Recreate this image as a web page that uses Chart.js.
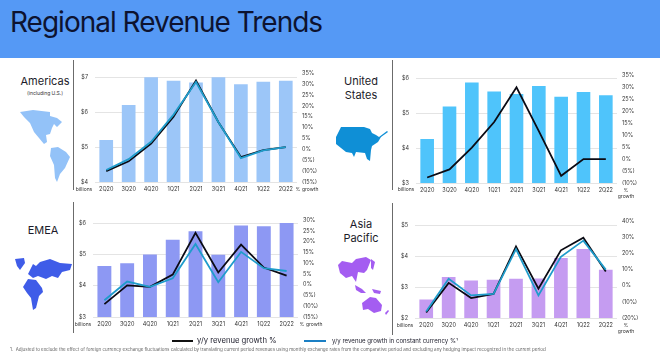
<!DOCTYPE html>
<html>
<head>
<meta charset="utf-8">
<script src="https://cdn.jsdelivr.net/npm/chart.js@4"></script>
<style>
  html, body { margin: 0; padding: 0; background: #fff; }
  body { width: 660px; height: 352px; position: relative; overflow: hidden; font-family: Inter, "Noto Sans", sans-serif; color: #1c1c2a; }
  #band { position: absolute; left: 0; top: 0; width: 660px; height: 58px; background: #5599f5; }
  #title { position: absolute; left: 10px; top: 2px; font-size: 28px; line-height: 40px; letter-spacing: -1px; color: #0d1330; white-space: nowrap; }
  canvas { position: absolute; }
  .sep { position: absolute; width: 1px; background: #6b6b6b; }
  .name { position: absolute; text-align: center; font-size: 11px; line-height: 13.5px; transform: translateX(-50%); white-space: nowrap; }
  .small { position: absolute; font-size: 5px; line-height: 6px; color: #333; white-space: nowrap; text-align: center; transform: translateX(-50%); }
  #maps { position: absolute; left: 0; top: 0; }
  .leg { position: absolute; top: 336px; line-height: 9px; white-space: nowrap; }
  .swatch { position: absolute; height: 1.5px; top: 340px; }
  #note { position: absolute; left: 10px; top: 346.5px; font-size: 4.5px; line-height: 5px; color: #666; white-space: nowrap; }
</style>
</head>
<body>
<div id="band"></div>
<div id="title">Regional Revenue Trends</div>

<div class="sep" style="left:73px;top:60px;height:130px"></div>
<div class="sep" style="left:392px;top:60px;height:130px"></div>
<div class="sep" style="left:73px;top:202px;height:131px"></div>
<div class="sep" style="left:392px;top:203px;height:132px"></div>

<div class="name" style="left:45px;top:75px">Americas</div>
<div class="small" style="left:45px;top:90px">(including U.S.)</div>
<div class="name" style="left:361px;top:75px">United<br>States</div>
<div class="name" style="left:43px;top:224px">EMEA</div>
<div class="name" style="left:361px;top:218px">Asia<br>Pacific</div>

<svg id="maps" width="660" height="352">
  <path fill="#93c2f8" d="M20 112L33 110L50 112L50 116L57 118L62 122L57 127L54 124L52 128L50 134L46 135L47 142L44 144L39 138L34 132L30 123L24 117Z"/>
  <path fill="#93c2f8" d="M51 148L58 147L66 152L70 157L65 168L60 174L57 182L55 178L54 165L50 156Z"/>
  <path fill="#0f8fd6" d="M341 127L364 127L370 129L372 133L376 135L379 137L387 131L388 132L381 137L378 142L372 146L371 150L370 161L367 159L365 153L356 152L354 157L352 153L346 152L341 148L336 144L336 137Z"/>
  <path fill="#3f5ce8" d="M15 259L24 258L25 263L20 270L17 266Z"/>
  <path fill="#3f5ce8" d="M28 274L33 264L36 266L40 262L50 259L60 263L72 264L70 270L62 272L58 278L52 276L46 279L38 276L33 278Z"/>
  <path fill="#3f5ce8" d="M23 287L28 279L36 280L42 288L43 292L39 296L36 308L33 310L31 298L27 293Z"/>
  <path fill="#a45df1" d="M338 265L342 261L352 263L356 259L366 257L371 260L367 270L364 273L358 272L356 282L352 276L346 278L340 273Z"/>
  <path fill="#a45df1" d="M371 259L375 262L373 270L371 268Z"/>
  <path fill="#a45df1" d="M355 285L362 289L366 293L361 293L356 290Z"/>
  <path fill="#a45df1" d="M372 289L381 291L380 294L374 293Z"/>
  <path fill="#a45df1" d="M362 303L370 297L376 298L382 305L381 311L374 313L368 309L363 310Z"/>
  <path fill="#a45df1" d="M385 313L388 310L389 311L386 315Z"/>
</svg>

<canvas id="chartAmericas"></canvas>
<canvas id="chartUS"></canvas>
<canvas id="chartEMEA"></canvas>
<canvas id="chartAPAC"></canvas>

<div class="small" style="left:84px;top:186px">billions</div>
<div class="small" style="left:307px;top:186px">% growth</div>
<div class="small" style="left:406px;top:186px">billions</div>
<div class="small" style="left:626px;top:187px">%<br>growth</div>
<div class="small" style="left:83px;top:321px">billions</div>
<div class="small" style="left:311px;top:321px">% growth</div>
<div class="small" style="left:405px;top:322px">billions</div>
<div class="small" style="left:626px;top:322px">%<br>growth</div>

<div class="swatch" style="left:172px;width:21px;background:#111"></div>
<div class="leg" style="left:197px;font-size:7.7px">y/y revenue growth %</div>
<div class="swatch" style="left:304px;width:22px;background:#1b7fc4"></div>
<div class="leg" style="left:332px;font-size:6.1px">y/y revenue growth in constant currency %¹</div>
<div id="note">1.&nbsp; Adjusted to exclude the effect of foreign currency exchange fluctuations calculated by translating current period revenues using monthly exchange rates from the comparative period and excluding any hedging impact recognized in the current period</div>

<script>
const quarters = ['2Q20', '3Q20', '4Q20', '1Q21', '2Q21', '3Q21', '4Q21', '1Q22', '2Q22'];

const americasRevenue = [5.2, 6.2, 7.0, 6.9, 6.85, 7.0, 6.8, 6.87, 6.9];
const americasGrowth = [-10, -5.5, 2.7, 15, 31.7, 12.5, -3.5, -0.3, 1];
const americasConstant = [-9.5, -4.5, 3.5, 16, 31, 12.5, -4, -0.5, 1];

const usRevenue = [4.26, 5.19, 5.88, 5.62, 5.55, 5.78, 5.47, 5.61, 5.51];
const usGrowth = [-7.7, -4.3, 4.8, 15.5, 30, 11.7, -7, 0, 0];

const emeaRevenue = [4.63, 4.72, 5.0, 5.47, 5.74, 4.99, 5.92, 5.9, 6.0];
const emeaGrowth = [-9, -0.3, -1, 4.7, 24.2, 5.7, 18.7, 8, 4.3];
const emeaConstant = [-7.2, 1.5, -1, 3, 19, 1.2, 15.3, 7.7, 6.4];

const apacRevenue = [2.6, 3.33, 3.21, 3.24, 3.27, 3.28, 3.94, 4.23, 3.56];
const apacGrowth = [-16.6, 1.8, -7.6, -5, 24.4, -1.8, 22, 29.8, 8.8];
const apacConstant = [-16, 4.3, -6, -5, 22.7, -6, 18, 28, 10];

const americasLeftTicks = [4, 5, 6, 7];
const americasRightTicks = [-15, -10, -5, 0, 5, 10, 15, 20, 25, 30, 35];
const usLeftTicks = [3, 4, 5, 6];
const usRightTicks = [-10, -5, 0, 5, 10, 15, 20, 25, 30, 35];
const emeaLeftTicks = [3, 4, 5, 6];
const emeaRightTicks = [-15, -10, -5, 0, 5, 10, 15, 20, 25, 30];
const apacLeftTicks = [2, 3, 4, 5];
const apacRightTicks = [-20, -10, 0, 10, 20, 30, 40];

const growthLabel = 'y/y revenue growth %';
const constantLabel = 'y/y revenue growth in constant currency %';
const tickFont = { family: 'Inter', size: 5.5 };
const tickColor = '#333';

function pct(v) {
    return v < 0 ? '(' + Math.abs(v) + '%)' : v + '%';
}

function regionChart(id, box, barColor, revenue, growth, constant, leftMax, leftTicks, rightTicks) {
    const canvas = document.getElementById(id);
    canvas.width = 250;
    canvas.height = box.height;
    canvas.style.left = box.left + 'px';
    canvas.style.top = box.top + 'px';

    const datasets = [{
        type: 'line',
        label: growthLabel,
        data: growth,
        yAxisID: 'yGrowth',
        borderColor: '#0b0b14',
        borderWidth: 1.8,
        pointRadius: 0,
        tension: 0,
        order: 1
    }];
    if (constant) {
        datasets.push({
            type: 'line',
            label: constantLabel,
            data: constant,
            yAxisID: 'yGrowth',
            borderColor: '#1f9ccb',
            borderWidth: 1.8,
            pointRadius: 0,
            tension: 0,
            order: 0
        });
    }
    datasets.push({
        type: 'bar',
        label: 'Revenue',
        data: revenue,
        yAxisID: 'yRevenue',
        backgroundColor: barColor,
        barPercentage: 1,
        categoryPercentage: 0.61,
        order: 2
    });

    new Chart(canvas, {
        data: { labels: quarters, datasets: datasets },
        options: {
            responsive: false,
            animation: false,
            plugins: { legend: { display: false }, tooltip: { enabled: false } },
            scales: {
                x: {
                    grid: { display: false, drawTicks: false },
                    border: { display: false },
                    afterFit: function(s) { s.height = 14; },
                    ticks: { font: tickFont, color: tickColor, padding: 4, maxRotation: 0, autoSkip: false }
                },
                yRevenue: {
                    position: 'left',
                    min: leftTicks[0],
                    max: leftMax,
                    afterBuildTicks: function(s) { s.ticks = leftTicks.map(function(v) { return { value: v }; }); },
                    afterFit: function(s) { s.width = box.leftW; },
                    grid: { color: '#e4e4e4', lineWidth: 1, drawTicks: false },
                    border: { display: false },
                    ticks: { font: tickFont, color: tickColor, padding: 7, callback: function(v) { return '$' + v; } }
                },
                yGrowth: {
                    position: 'right',
                    min: rightTicks[0],
                    max: rightTicks[rightTicks.length - 1],
                    afterBuildTicks: function(s) { s.ticks = rightTicks.map(function(v) { return { value: v }; }); },
                    afterFit: function(s) { s.width = box.rightW; },
                    grid: { display: false, drawTicks: false },
                    border: { display: false },
                    ticks: { font: tickFont, color: tickColor, padding: 5, callback: pct }
                }
            }
        }
    });
}

regionChart('chartAmericas', { left: 74, top: 63, height: 133, leftW: 21, rightW: 27 },
    '#9cc6f8', americasRevenue, americasGrowth, americasConstant, 7.11, americasLeftTicks, americasRightTicks);
regionChart('chartUS', { left: 394, top: 65, height: 132, leftW: 22, rightW: 27 },
    '#4fc4fb', usRevenue, usGrowth, null, 6.085, usLeftTicks, usRightTicks);
regionChart('chartEMEA', { left: 74, top: 210, height: 121, leftW: 19, rightW: 26 },
    '#8d98f3', emeaRevenue, emeaGrowth, emeaConstant, 6.09, emeaLeftTicks, emeaRightTicks);
regionChart('chartAPAC', { left: 394, top: 211, height: 121, leftW: 21, rightW: 27 },
    '#c59cf1', apacRevenue, apacGrowth, apacConstant, 5.128, apacLeftTicks, apacRightTicks);
</script>
</body>
</html>
